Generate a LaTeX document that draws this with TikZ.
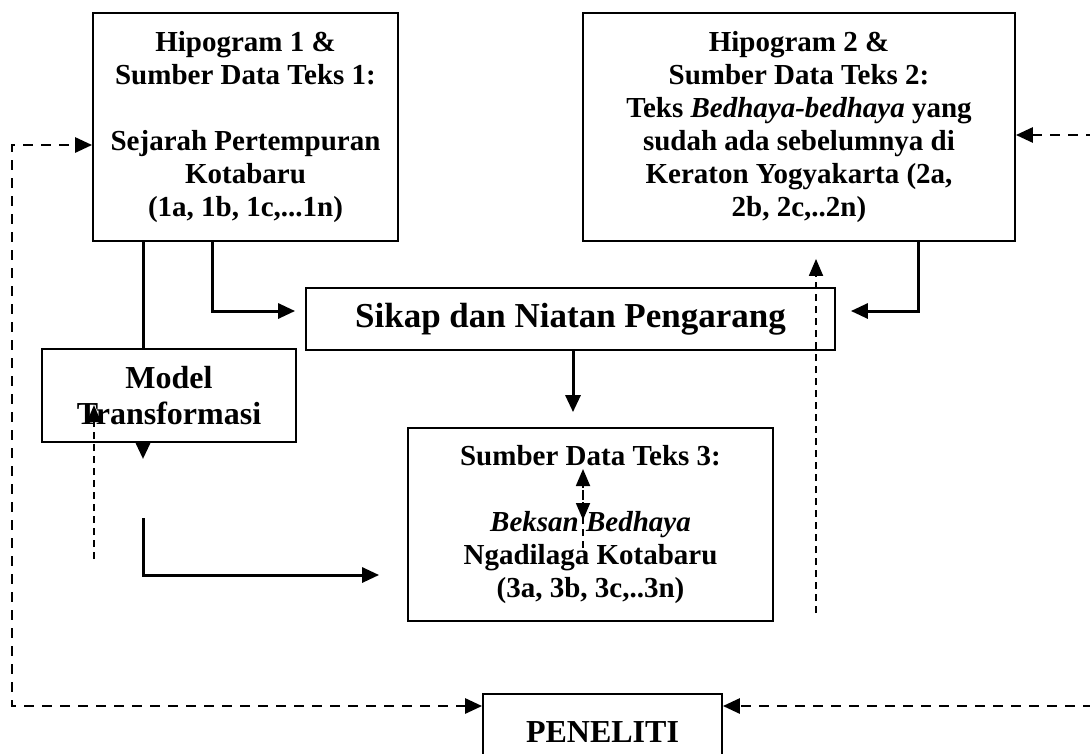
\documentclass[tikz,border=0pt]{standalone}
\usepackage{fontspec}
\setmainfont{Liberation Serif}
\usetikzlibrary{arrows.meta}
\tikzset{
  kotak/.style={draw,line width=1.8pt,align=center,inner sep=0pt,font=\fontsize{29}{33}\selectfont\bfseries},
  garis/.style={line width=3pt},
  panah/.style={line width=3pt,-{Triangle[length=17pt,width=15pt]}},
  putus/.style={line width=2.8pt,dash pattern=on 10pt off 8pt,{Triangle[length=17pt,width=15pt]}-{Triangle[length=17pt,width=15pt]}},
  putustipis/.style={line width=1.8pt,dash pattern=on 7pt off 5pt,-{Triangle[length=17pt,width=14pt]}}
}
\begin{document}
\begin{tikzpicture}[x=1pt,y=-1pt,line join=miter]
  \useasboundingbox (0,0) rectangle (1090,753);
  \clip (0,0) rectangle (1090,753);
  % kotak-kotak
  \node[kotak,minimum width=305pt,minimum height=228pt] (hipo1) at (245.5,127)
    {Hipogram 1 \&\\Sumber Data Teks 1:\\[33pt]Sejarah Pertempuran\\Kotabaru\\(1a, 1b, 1c,...1n)};
  \node[kotak,minimum width=432pt,minimum height=228pt] (hipo2) at (799,127)
    {Hipogram 2 \&\\Sumber Data Teks 2:\\Teks \textit{Bedhaya-bedhaya} yang\\sudah ada sebelumnya di\\Keraton Yogyakarta (2a,\\2b, 2c,..2n)};
  \node[kotak,minimum width=529pt,minimum height=62pt,font=\fontsize{35}{38}\selectfont\bfseries] (sikap) at (570.5,319) {Sikap dan Niatan Pengarang};
  \node[kotak,minimum width=254pt,minimum height=93pt,font=\fontsize{32}{36}\selectfont\bfseries] (model) at (169,395.5) {Model\\Transformasi};
  \node[kotak,minimum width=365pt,minimum height=193pt] (teks3) at (590.5,524.5)
    {Sumber Data Teks 3:\\[33pt]\textit{Beksan Bedhaya}\\Ngadilaga Kotabaru\\(3a, 3b, 3c,..3n)};
  \node[kotak,minimum width=239pt,minimum height=76pt,font=\fontsize{32}{36}\selectfont\bfseries] (peneliti) at (602.5,732) {PENELITI};
  % titik bantu
  \coordinate (kA) at (143,0);
  \coordinate (ujungA) at (143,459);
  \coordinate (awalB) at (143,518);
  \coordinate (bawahB) at (143,575);
  \coordinate (kB) at (212,311);
  \coordinate (kC) at (918,311);
  \coordinate (kD) at (573,0);
  \coordinate (pE) at (816,613);
  \coordinate (pF) at (94,559);
  \coordinate (pFt) at (94,405);
  \coordinate (pG) at (583,548);
  \coordinate (pGt) at (583,469);
  \coordinate (pGa) at (583,490);
  \coordinate (pGb) at (583,520);
  \coordinate (kiri) at (12,706);
  \coordinate (kanan) at (1110,706);
  \coordinate (barisH) at (0,145);
  \coordinate (barisK) at (0,135);
  % garis tegas
  \draw[garis] (hipo1.south -| kA) -- (model.north -| kA);
  \draw[panah] (model.south -| kA) -- (ujungA);
  \draw[panah,shorten >=28pt] (awalB) -- (bawahB) -- (bawahB -| teks3.west);
  \draw[panah,shorten >=10pt] (hipo1.south -| kB) |- (sikap.west |- kB);
  \draw[panah,shorten >=15pt] (hipo2.south -| kC) |- (sikap.east |- kC);
  \draw[panah,shorten >=15pt] (sikap.south -| kD) -- (teks3.north -| kD);
  % garis putus-putus
  \draw[putustipis,shorten >=17pt] (pE) -- (pE |- hipo2.south);
  \draw[putustipis] (pF) -- (pFt);
  \draw[putustipis] (pG) -- (pGt);
  \draw[putustipis] (pGa) -- (pGb);
  \draw[putus] (peneliti.west |- kiri) -- (kiri) |- (hipo1.west |- barisH);
  \draw[putus] (hipo2.east |- barisK) -| (kanan) -- (peneliti.east |- kanan);
\end{tikzpicture}
\end{document}
